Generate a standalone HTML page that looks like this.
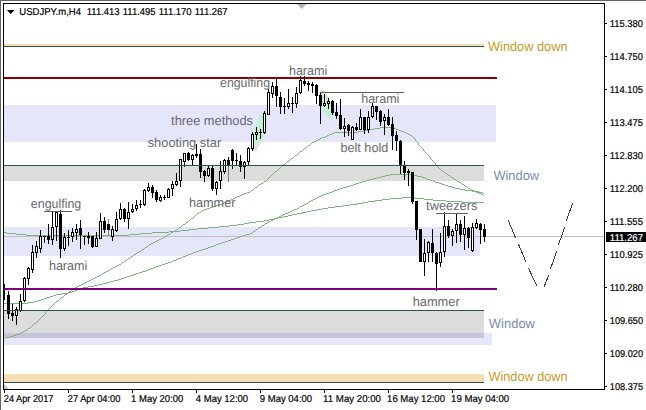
<!DOCTYPE html>
<html><head><meta charset="utf-8"><title>USDJPY H4</title>
<style>html,body{margin:0;padding:0;background:#fff}body{width:646px;height:410px;overflow:hidden;font-family:"Liberation Sans",sans-serif}svg{display:block}text{font-family:"Liberation Sans",sans-serif;text-rendering:geometricPrecision}</style>
</head><body>
<svg width="646" height="410" viewBox="0 0 646 410">
<rect x="0" y="0" width="646" height="410" fill="#ffffff"/>
<g shape-rendering="crispEdges">
<rect x="4" y="105" width="492" height="37" fill="#E6E6FA"/>
<rect x="4" y="227" width="476" height="29" fill="#E6E6FA"/>
<rect x="4" y="333" width="488" height="12" fill="#E6E6FA"/>
<rect x="4" y="166" width="480" height="15" fill="#DCDCDC"/>
<rect x="4" y="311" width="480" height="27" fill="#DCDCDC"/>
<rect x="4" y="333" width="480" height="5" fill="#C4C4D8"/>
<rect x="4" y="374" width="480" height="8" fill="#F5DEB3"/>
<rect x="4" y="44" width="480" height="2" fill="#F5DEB3"/>
</g>
<defs><clipPath id="cl"><rect x="4" y="105" width="492" height="37"/></clipPath></defs>
<ellipse cx="259.2" cy="131.5" rx="5.5" ry="20.5" fill="#D8E8D8" transform="rotate(16.6 259.2 131.5)" shape-rendering="crispEdges"/>
<g clip-path="url(#cl)"><ellipse cx="259.2" cy="131.5" rx="5.5" ry="20.5" fill="#C2F0D8" transform="rotate(16.6 259.2 131.5)" shape-rendering="crispEdges"/></g>
<ellipse cx="326.2" cy="104.5" rx="5" ry="15.5" fill="#D8E8D8" transform="rotate(-19 326.2 104.5)" shape-rendering="crispEdges"/>
<g clip-path="url(#cl)"><ellipse cx="326.2" cy="104.5" rx="5" ry="15.5" fill="#C2F0D8" transform="rotate(-19 326.2 104.5)" shape-rendering="crispEdges"/></g>
<g shape-rendering="crispEdges">
<rect x="4" y="236" width="601" height="1" fill="#C0C0C0"/>
</g>
<path d="M4,232h1v1h-1zM5,232h1v1h-1zM6,232h1v1h-1zM7,233h1v1h-1zM8,233h1v1h-1zM9,233h1v1h-1zM10,233h1v1h-1zM11,233h1v1h-1zM12,233h1v1h-1zM13,233h1v1h-1zM14,233h1v1h-1zM15,233h1v1h-1zM16,234h1v1h-1zM17,234h1v1h-1zM18,234h1v1h-1zM19,234h1v1h-1zM20,234h1v1h-1zM21,234h1v1h-1zM22,234h1v1h-1zM23,234h1v1h-1zM24,234h1v1h-1zM25,234h1v1h-1zM26,235h1v1h-1zM27,235h1v1h-1zM28,235h1v1h-1zM29,235h1v1h-1zM30,235h1v1h-1zM31,235h1v1h-1zM32,235h1v1h-1zM33,235h1v1h-1zM34,235h1v1h-1zM35,235h1v1h-1zM36,235h1v1h-1zM37,235h1v1h-1zM38,235h1v1h-1zM39,235h1v1h-1zM40,235h1v1h-1zM41,235h1v1h-1zM42,235h1v1h-1zM43,235h1v1h-1zM44,235h1v1h-1zM45,235h1v1h-1zM46,235h1v1h-1zM47,235h1v1h-1zM48,235h1v1h-1zM49,235h1v1h-1zM50,235h1v1h-1zM51,235h1v1h-1zM52,235h1v1h-1zM53,235h1v1h-1zM54,235h1v1h-1zM55,235h1v1h-1zM56,235h1v1h-1zM57,235h1v1h-1zM58,235h1v1h-1zM59,235h1v1h-1zM60,235h1v1h-1zM61,235h1v1h-1zM62,235h1v1h-1zM63,235h1v1h-1zM64,235h1v1h-1zM65,235h1v1h-1zM66,235h1v1h-1zM67,235h1v1h-1zM68,235h1v1h-1zM69,235h1v1h-1zM70,235h1v1h-1zM71,235h1v1h-1zM72,235h1v1h-1zM73,235h1v1h-1zM74,235h1v1h-1zM75,235h1v1h-1zM76,235h1v1h-1zM77,235h1v1h-1zM78,235h1v1h-1zM79,235h1v1h-1zM80,235h1v1h-1zM81,235h1v1h-1zM82,235h1v1h-1zM83,235h1v1h-1zM84,235h1v1h-1zM85,235h1v1h-1zM86,235h1v1h-1zM87,235h1v1h-1zM88,235h1v1h-1zM89,235h1v1h-1zM90,235h1v1h-1zM91,235h1v1h-1zM92,235h1v1h-1zM93,235h1v1h-1zM94,235h1v1h-1zM95,235h1v1h-1zM96,235h1v1h-1zM97,235h1v1h-1zM98,235h1v1h-1zM99,235h1v1h-1zM100,235h1v1h-1zM101,235h1v1h-1zM102,235h1v1h-1zM103,235h1v1h-1zM104,235h1v1h-1zM105,235h1v1h-1zM106,235h1v1h-1zM107,235h1v1h-1zM108,235h1v1h-1zM109,235h1v1h-1zM110,235h1v1h-1zM111,235h1v1h-1zM112,235h1v1h-1zM113,235h1v1h-1zM114,235h1v1h-1zM115,235h1v1h-1zM116,235h1v1h-1zM117,235h1v1h-1zM118,235h1v1h-1zM119,235h1v1h-1zM120,235h1v1h-1zM121,235h1v1h-1zM122,235h1v1h-1zM123,235h1v1h-1zM124,235h1v1h-1zM125,235h1v1h-1zM126,235h1v1h-1zM127,235h1v1h-1zM128,235h1v1h-1zM129,234h1v1h-1zM130,234h1v1h-1zM131,234h1v1h-1zM132,234h1v1h-1zM133,234h1v1h-1zM134,234h1v1h-1zM135,234h1v1h-1zM136,234h1v1h-1zM137,234h1v1h-1zM138,234h1v1h-1zM139,234h1v1h-1zM140,233h1v1h-1zM141,233h1v1h-1zM142,233h1v1h-1zM143,233h1v1h-1zM144,233h1v1h-1zM145,233h1v1h-1zM146,233h1v1h-1zM147,233h1v1h-1zM148,233h1v1h-1zM149,233h1v1h-1zM150,233h1v1h-1zM151,233h1v1h-1zM152,232h1v1h-1zM153,232h1v1h-1zM154,232h1v1h-1zM155,232h1v1h-1zM156,232h1v1h-1zM157,232h1v1h-1zM158,232h1v1h-1zM159,232h1v1h-1zM160,232h1v1h-1zM161,232h1v1h-1zM162,232h1v1h-1zM163,232h1v1h-1zM164,232h1v1h-1zM165,232h1v1h-1zM166,232h1v1h-1zM167,232h1v1h-1zM168,232h1v1h-1zM169,231h1v1h-1zM170,231h1v1h-1zM171,231h1v1h-1zM172,231h1v1h-1zM173,231h1v1h-1zM174,231h1v1h-1zM175,231h1v1h-1zM176,231h1v1h-1zM177,231h1v1h-1zM178,231h1v1h-1zM179,231h1v1h-1zM180,230h1v1h-1zM181,230h1v1h-1zM182,230h1v1h-1zM183,230h1v1h-1zM184,230h1v1h-1zM185,230h1v1h-1zM186,230h1v1h-1zM187,230h1v1h-1zM188,230h1v1h-1zM189,229h1v1h-1zM190,229h1v1h-1zM191,229h1v1h-1zM192,229h1v1h-1zM193,229h1v1h-1zM194,229h1v1h-1zM195,229h1v1h-1zM196,229h1v1h-1zM197,228h1v1h-1zM198,228h1v1h-1zM199,228h1v1h-1zM200,228h1v1h-1zM201,228h1v1h-1zM202,228h1v1h-1zM203,228h1v1h-1zM204,228h1v1h-1zM205,228h1v1h-1zM206,228h1v1h-1zM207,228h1v1h-1zM208,227h1v1h-1zM209,227h1v1h-1zM210,227h1v1h-1zM211,227h1v1h-1zM212,227h1v1h-1zM213,227h1v1h-1zM214,227h1v1h-1zM215,227h1v1h-1zM216,227h1v1h-1zM217,227h1v1h-1zM218,227h1v1h-1zM219,226h1v1h-1zM220,226h1v1h-1zM221,226h1v1h-1zM222,226h1v1h-1zM223,226h1v1h-1zM224,226h1v1h-1zM225,226h1v1h-1zM226,226h1v1h-1zM227,226h1v1h-1zM228,226h1v1h-1zM229,225h1v1h-1zM230,225h1v1h-1zM231,225h1v1h-1zM232,225h1v1h-1zM233,225h1v1h-1zM234,225h1v1h-1zM235,225h1v1h-1zM236,225h1v1h-1zM237,224h1v1h-1zM238,224h1v1h-1zM239,224h1v1h-1zM240,224h1v1h-1zM241,224h1v1h-1zM242,224h1v1h-1zM243,224h1v1h-1zM244,223h1v1h-1zM245,223h1v1h-1zM246,223h1v1h-1zM247,223h1v1h-1zM248,223h1v1h-1zM249,222h1v1h-1zM250,222h1v1h-1zM251,222h1v1h-1zM252,222h1v1h-1zM253,222h1v1h-1zM254,222h1v1h-1zM255,222h1v1h-1zM256,221h1v1h-1zM257,221h1v1h-1zM258,221h1v1h-1zM259,221h1v1h-1zM260,221h1v1h-1zM261,221h1v1h-1zM262,221h1v1h-1zM263,221h1v1h-1zM264,220h1v1h-1zM265,220h1v1h-1zM266,220h1v1h-1zM267,220h1v1h-1zM268,220h1v1h-1zM269,219h1v1h-1zM270,219h1v1h-1zM271,219h1v1h-1zM272,219h1v1h-1zM273,219h1v1h-1zM274,218h1v1h-1zM275,218h1v1h-1zM276,218h1v1h-1zM277,218h1v1h-1zM278,217h1v1h-1zM279,217h1v1h-1zM280,217h1v1h-1zM281,217h1v1h-1zM282,217h1v1h-1zM283,216h1v1h-1zM284,216h1v1h-1zM285,216h1v1h-1zM286,216h1v1h-1zM287,216h1v1h-1zM288,215h1v1h-1zM289,215h1v1h-1zM290,215h1v1h-1zM291,215h1v1h-1zM292,214h1v1h-1zM293,214h1v1h-1zM294,214h1v1h-1zM295,214h1v1h-1zM296,214h1v1h-1zM297,213h1v1h-1zM298,213h1v1h-1zM299,213h1v1h-1zM300,213h1v1h-1zM301,213h1v1h-1zM302,212h1v1h-1zM303,212h1v1h-1zM304,212h1v1h-1zM305,212h1v1h-1zM306,212h1v1h-1zM307,211h1v1h-1zM308,211h1v1h-1zM309,211h1v1h-1zM310,211h1v1h-1zM311,210h1v1h-1zM312,210h1v1h-1zM313,210h1v1h-1zM314,210h1v1h-1zM315,210h1v1h-1zM316,210h1v1h-1zM317,209h1v1h-1zM318,209h1v1h-1zM319,209h1v1h-1zM320,209h1v1h-1zM321,209h1v1h-1zM322,208h1v1h-1zM323,208h1v1h-1zM324,208h1v1h-1zM325,208h1v1h-1zM326,208h1v1h-1zM327,208h1v1h-1zM328,207h1v1h-1zM329,207h1v1h-1zM330,207h1v1h-1zM331,207h1v1h-1zM332,207h1v1h-1zM333,207h1v1h-1zM334,207h1v1h-1zM335,206h1v1h-1zM336,206h1v1h-1zM337,206h1v1h-1zM338,206h1v1h-1zM339,206h1v1h-1zM340,206h1v1h-1zM341,206h1v1h-1zM342,206h1v1h-1zM343,205h1v1h-1zM344,205h1v1h-1zM345,205h1v1h-1zM346,205h1v1h-1zM347,205h1v1h-1zM348,205h1v1h-1zM349,205h1v1h-1zM350,204h1v1h-1zM351,204h1v1h-1zM352,204h1v1h-1zM353,204h1v1h-1zM354,204h1v1h-1zM355,204h1v1h-1zM356,204h1v1h-1zM357,203h1v1h-1zM358,203h1v1h-1zM359,203h1v1h-1zM360,203h1v1h-1zM361,203h1v1h-1zM362,203h1v1h-1zM363,202h1v1h-1zM364,202h1v1h-1zM365,202h1v1h-1zM366,202h1v1h-1zM367,202h1v1h-1zM368,201h1v1h-1zM369,201h1v1h-1zM370,201h1v1h-1zM371,201h1v1h-1zM372,201h1v1h-1zM373,201h1v1h-1zM374,201h1v1h-1zM375,200h1v1h-1zM376,200h1v1h-1zM377,200h1v1h-1zM378,200h1v1h-1zM379,200h1v1h-1zM380,200h1v1h-1zM381,200h1v1h-1zM382,199h1v1h-1zM383,199h1v1h-1zM384,199h1v1h-1zM385,199h1v1h-1zM386,199h1v1h-1zM387,199h1v1h-1zM388,199h1v1h-1zM389,199h1v1h-1zM390,198h1v1h-1zM391,198h1v1h-1zM392,198h1v1h-1zM393,198h1v1h-1zM394,198h1v1h-1zM395,198h1v1h-1zM396,198h1v1h-1zM397,198h1v1h-1zM398,198h1v1h-1zM399,198h1v1h-1zM400,198h1v1h-1zM401,198h1v1h-1zM402,197h1v1h-1zM403,197h1v1h-1zM404,197h1v1h-1zM405,197h1v1h-1zM406,197h1v1h-1zM407,197h1v1h-1zM408,197h1v1h-1zM409,197h1v1h-1zM410,197h1v1h-1zM411,197h1v1h-1zM412,197h1v1h-1zM413,197h1v1h-1zM414,197h1v1h-1zM415,198h1v1h-1zM416,198h1v1h-1zM417,198h1v1h-1zM418,198h1v1h-1zM419,198h1v1h-1zM420,198h1v1h-1zM421,198h1v1h-1zM422,198h1v1h-1zM423,198h1v1h-1zM424,199h1v1h-1zM425,199h1v1h-1zM426,199h1v1h-1zM427,199h1v1h-1zM428,199h1v1h-1zM429,199h1v1h-1zM430,199h1v1h-1zM431,199h1v1h-1zM432,199h1v1h-1zM433,200h1v1h-1zM434,200h1v1h-1zM435,200h1v1h-1zM436,200h1v1h-1zM437,200h1v1h-1zM438,200h1v1h-1zM439,200h1v1h-1zM440,200h1v1h-1zM441,200h1v1h-1zM442,200h1v1h-1zM443,200h1v1h-1zM444,200h1v1h-1zM445,200h1v1h-1zM446,201h1v1h-1zM447,201h1v1h-1zM448,201h1v1h-1zM449,201h1v1h-1zM450,201h1v1h-1zM451,201h1v1h-1zM452,201h1v1h-1zM453,201h1v1h-1zM454,201h1v1h-1zM455,201h1v1h-1zM456,201h1v1h-1zM457,201h1v1h-1zM458,201h1v1h-1zM459,201h1v1h-1zM460,201h1v1h-1zM461,201h1v1h-1zM462,202h1v1h-1zM463,202h1v1h-1zM464,202h1v1h-1zM465,202h1v1h-1zM466,202h1v1h-1zM467,202h1v1h-1zM468,202h1v1h-1zM469,202h1v1h-1zM470,202h1v1h-1zM471,202h1v1h-1zM472,202h1v1h-1zM473,202h1v1h-1zM474,202h1v1h-1zM475,202h1v1h-1zM476,202h1v1h-1zM477,202h1v1h-1zM478,202h1v1h-1zM479,202h1v1h-1zM480,202h1v1h-1zM481,202h1v1h-1zM482,202h1v1h-1zM483,202h1v1h-1z" fill="#7DB47D" shape-rendering="crispEdges"/>
<path d="M4,303h1v1h-1zM5,303h1v1h-1zM6,303h1v1h-1zM7,303h1v1h-1zM8,303h1v1h-1zM9,303h1v1h-1zM10,303h1v1h-1zM11,303h1v1h-1zM12,303h1v1h-1zM13,303h1v1h-1zM14,303h1v1h-1zM15,303h1v1h-1zM16,303h1v1h-1zM17,303h1v1h-1zM18,303h1v1h-1zM19,303h1v1h-1zM20,303h1v1h-1zM21,303h1v1h-1zM22,303h1v1h-1zM23,303h1v1h-1zM24,303h1v1h-1zM25,303h1v1h-1zM26,303h1v1h-1zM27,303h1v1h-1zM28,302h1v1h-1zM29,302h1v1h-1zM30,302h1v1h-1zM31,302h1v1h-1zM32,302h1v1h-1zM33,302h1v1h-1zM34,301h1v1h-1zM35,301h1v1h-1zM36,301h1v1h-1zM37,301h1v1h-1zM38,300h1v1h-1zM39,300h1v1h-1zM40,300h1v1h-1zM41,299h1v1h-1zM42,299h1v1h-1zM43,299h1v1h-1zM44,298h1v1h-1zM45,298h1v1h-1zM46,298h1v1h-1zM47,297h1v1h-1zM48,297h1v1h-1zM49,297h1v1h-1zM50,296h1v1h-1zM51,296h1v1h-1zM52,296h1v1h-1zM53,295h1v1h-1zM54,295h1v1h-1zM55,295h1v1h-1zM56,294h1v1h-1zM57,294h1v1h-1zM58,294h1v1h-1zM59,294h1v1h-1zM60,294h1v1h-1zM61,294h1v1h-1zM62,293h1v1h-1zM63,293h1v1h-1zM64,293h1v1h-1zM65,293h1v1h-1zM66,293h1v1h-1zM67,293h1v1h-1zM68,292h1v1h-1zM69,292h1v1h-1zM70,292h1v1h-1zM71,292h1v1h-1zM72,291h1v1h-1zM73,291h1v1h-1zM74,291h1v1h-1zM75,290h1v1h-1zM76,290h1v1h-1zM77,289h1v1h-1zM78,289h1v1h-1zM79,289h1v1h-1zM80,288h1v1h-1zM81,288h1v1h-1zM82,288h1v1h-1zM83,287h1v1h-1zM84,287h1v1h-1zM85,287h1v1h-1zM86,287h1v1h-1zM87,287h1v1h-1zM88,286h1v1h-1zM89,286h1v1h-1zM90,286h1v1h-1zM91,286h1v1h-1zM92,286h1v1h-1zM93,286h1v1h-1zM94,285h1v1h-1zM95,285h1v1h-1zM96,285h1v1h-1zM97,285h1v1h-1zM98,284h1v1h-1zM99,284h1v1h-1zM100,284h1v1h-1zM101,284h1v1h-1zM102,284h1v1h-1zM103,283h1v1h-1zM104,283h1v1h-1zM105,283h1v1h-1zM106,283h1v1h-1zM107,282h1v1h-1zM108,282h1v1h-1zM109,282h1v1h-1zM110,281h1v1h-1zM111,281h1v1h-1zM112,281h1v1h-1zM113,281h1v1h-1zM114,280h1v1h-1zM115,280h1v1h-1zM116,280h1v1h-1zM117,280h1v1h-1zM118,279h1v1h-1zM119,279h1v1h-1zM120,279h1v1h-1zM121,278h1v1h-1zM122,278h1v1h-1zM123,278h1v1h-1zM124,277h1v1h-1zM125,277h1v1h-1zM126,277h1v1h-1zM127,276h1v1h-1zM128,276h1v1h-1zM129,276h1v1h-1zM130,275h1v1h-1zM131,275h1v1h-1zM132,275h1v1h-1zM133,274h1v1h-1zM134,274h1v1h-1zM135,274h1v1h-1zM136,273h1v1h-1zM137,273h1v1h-1zM138,273h1v1h-1zM139,272h1v1h-1zM140,272h1v1h-1zM141,272h1v1h-1zM142,271h1v1h-1zM143,271h1v1h-1zM144,271h1v1h-1zM145,271h1v1h-1zM146,270h1v1h-1zM147,270h1v1h-1zM148,269h1v1h-1zM149,269h1v1h-1zM150,269h1v1h-1zM151,268h1v1h-1zM152,268h1v1h-1zM153,268h1v1h-1zM154,267h1v1h-1zM155,267h1v1h-1zM156,266h1v1h-1zM157,266h1v1h-1zM158,266h1v1h-1zM159,265h1v1h-1zM160,265h1v1h-1zM161,265h1v1h-1zM162,264h1v1h-1zM163,264h1v1h-1zM164,264h1v1h-1zM165,263h1v1h-1zM166,263h1v1h-1zM167,263h1v1h-1zM168,262h1v1h-1zM169,262h1v1h-1zM170,262h1v1h-1zM171,261h1v1h-1zM172,261h1v1h-1zM173,260h1v1h-1zM174,260h1v1h-1zM175,260h1v1h-1zM176,259h1v1h-1zM177,259h1v1h-1zM178,258h1v1h-1zM179,258h1v1h-1zM180,258h1v1h-1zM181,257h1v1h-1zM182,257h1v1h-1zM183,256h1v1h-1zM184,256h1v1h-1zM185,256h1v1h-1zM186,255h1v1h-1zM187,255h1v1h-1zM188,254h1v1h-1zM189,254h1v1h-1zM190,254h1v1h-1zM191,253h1v1h-1zM192,253h1v1h-1zM193,252h1v1h-1zM194,252h1v1h-1zM195,252h1v1h-1zM196,251h1v1h-1zM197,251h1v1h-1zM198,251h1v1h-1zM199,250h1v1h-1zM200,250h1v1h-1zM201,250h1v1h-1zM202,249h1v1h-1zM203,249h1v1h-1zM204,249h1v1h-1zM205,248h1v1h-1zM206,248h1v1h-1zM207,248h1v1h-1zM208,247h1v1h-1zM209,247h1v1h-1zM210,247h1v1h-1zM211,246h1v1h-1zM212,246h1v1h-1zM213,246h1v1h-1zM214,245h1v1h-1zM215,245h1v1h-1zM216,244h1v1h-1zM217,244h1v1h-1zM218,244h1v1h-1zM219,243h1v1h-1zM220,243h1v1h-1zM221,243h1v1h-1zM222,242h1v1h-1zM223,242h1v1h-1zM224,242h1v1h-1zM225,241h1v1h-1zM226,241h1v1h-1zM227,241h1v1h-1zM228,240h1v1h-1zM229,240h1v1h-1zM230,240h1v1h-1zM231,239h1v1h-1zM232,239h1v1h-1zM233,239h1v1h-1zM234,238h1v1h-1zM235,238h1v1h-1zM236,238h1v1h-1zM237,237h1v1h-1zM238,237h1v1h-1zM239,237h1v1h-1zM240,236h1v1h-1zM241,236h1v1h-1zM242,236h1v1h-1zM243,235h1v1h-1zM244,235h1v1h-1zM245,235h1v1h-1zM246,234h1v1h-1zM247,234h1v1h-1zM248,234h1v1h-1zM249,234h1v1h-1zM250,233h1v1h-1zM251,233h1v1h-1zM252,232h1v1h-1zM253,231h1v1h-1zM254,231h1v1h-1zM255,230h1v1h-1zM256,229h1v1h-1zM257,229h1v1h-1zM258,228h1v1h-1zM259,227h1v1h-1zM260,227h1v1h-1zM261,226h1v1h-1zM262,225h1v1h-1zM263,225h1v1h-1zM264,224h1v1h-1zM265,223h1v1h-1zM266,223h1v1h-1zM267,222h1v1h-1zM268,222h1v1h-1zM269,221h1v1h-1zM270,221h1v1h-1zM271,220h1v1h-1zM272,220h1v1h-1zM273,219h1v1h-1zM274,219h1v1h-1zM275,218h1v1h-1zM276,218h1v1h-1zM277,217h1v1h-1zM278,217h1v1h-1zM279,216h1v1h-1zM280,216h1v1h-1zM281,215h1v1h-1zM282,215h1v1h-1zM283,214h1v1h-1zM284,214h1v1h-1zM285,213h1v1h-1zM286,213h1v1h-1zM287,213h1v1h-1zM288,212h1v1h-1zM289,212h1v1h-1zM290,211h1v1h-1zM291,211h1v1h-1zM292,210h1v1h-1zM293,210h1v1h-1zM294,209h1v1h-1zM295,209h1v1h-1zM296,209h1v1h-1zM297,208h1v1h-1zM298,208h1v1h-1zM299,207h1v1h-1zM300,206h1v1h-1zM301,206h1v1h-1zM302,205h1v1h-1zM303,205h1v1h-1zM304,204h1v1h-1zM305,204h1v1h-1zM306,203h1v1h-1zM307,203h1v1h-1zM308,202h1v1h-1zM309,201h1v1h-1zM310,201h1v1h-1zM311,200h1v1h-1zM312,200h1v1h-1zM313,199h1v1h-1zM314,199h1v1h-1zM315,198h1v1h-1zM316,198h1v1h-1zM317,197h1v1h-1zM318,197h1v1h-1zM319,196h1v1h-1zM320,196h1v1h-1zM321,195h1v1h-1zM322,195h1v1h-1zM323,194h1v1h-1zM324,194h1v1h-1zM325,194h1v1h-1zM326,193h1v1h-1zM327,193h1v1h-1zM328,193h1v1h-1zM329,192h1v1h-1zM330,192h1v1h-1zM331,192h1v1h-1zM332,191h1v1h-1zM333,191h1v1h-1zM334,190h1v1h-1zM335,190h1v1h-1zM336,190h1v1h-1zM337,189h1v1h-1zM338,189h1v1h-1zM339,189h1v1h-1zM340,188h1v1h-1zM341,188h1v1h-1zM342,188h1v1h-1zM343,187h1v1h-1zM344,187h1v1h-1zM345,187h1v1h-1zM346,187h1v1h-1zM347,186h1v1h-1zM348,186h1v1h-1zM349,186h1v1h-1zM350,185h1v1h-1zM351,185h1v1h-1zM352,185h1v1h-1zM353,184h1v1h-1zM354,184h1v1h-1zM355,184h1v1h-1zM356,183h1v1h-1zM357,183h1v1h-1zM358,183h1v1h-1zM359,182h1v1h-1zM360,182h1v1h-1zM361,182h1v1h-1zM362,181h1v1h-1zM363,181h1v1h-1zM364,181h1v1h-1zM365,181h1v1h-1zM366,180h1v1h-1zM367,180h1v1h-1zM368,180h1v1h-1zM369,179h1v1h-1zM370,179h1v1h-1zM371,179h1v1h-1zM372,179h1v1h-1zM373,178h1v1h-1zM374,178h1v1h-1zM375,178h1v1h-1zM376,178h1v1h-1zM377,177h1v1h-1zM378,177h1v1h-1zM379,177h1v1h-1zM380,177h1v1h-1zM381,176h1v1h-1zM382,176h1v1h-1zM383,176h1v1h-1zM384,176h1v1h-1zM385,175h1v1h-1zM386,175h1v1h-1zM387,175h1v1h-1zM388,175h1v1h-1zM389,175h1v1h-1zM390,174h1v1h-1zM391,174h1v1h-1zM392,174h1v1h-1zM393,174h1v1h-1zM394,174h1v1h-1zM395,174h1v1h-1zM396,174h1v1h-1zM397,174h1v1h-1zM398,174h1v1h-1zM399,174h1v1h-1zM400,174h1v1h-1zM401,174h1v1h-1zM402,174h1v1h-1zM403,174h1v1h-1zM404,174h1v1h-1zM405,174h1v1h-1zM406,174h1v1h-1zM407,174h1v1h-1zM408,174h1v1h-1zM409,174h1v1h-1zM410,174h1v1h-1zM411,175h1v1h-1zM412,175h1v1h-1zM413,175h1v1h-1zM414,175h1v1h-1zM415,175h1v1h-1zM416,175h1v1h-1zM417,176h1v1h-1zM418,176h1v1h-1zM419,176h1v1h-1zM420,176h1v1h-1zM421,176h1v1h-1zM422,177h1v1h-1zM423,177h1v1h-1zM424,177h1v1h-1zM425,178h1v1h-1zM426,178h1v1h-1zM427,179h1v1h-1zM428,179h1v1h-1zM429,179h1v1h-1zM430,180h1v1h-1zM431,180h1v1h-1zM432,180h1v1h-1zM433,181h1v1h-1zM434,181h1v1h-1zM435,182h1v1h-1zM436,182h1v1h-1zM437,182h1v1h-1zM438,182h1v1h-1zM439,183h1v1h-1zM440,183h1v1h-1zM441,183h1v1h-1zM442,184h1v1h-1zM443,184h1v1h-1zM444,184h1v1h-1zM445,185h1v1h-1zM446,185h1v1h-1zM447,185h1v1h-1zM448,186h1v1h-1zM449,186h1v1h-1zM450,186h1v1h-1zM451,186h1v1h-1zM452,187h1v1h-1zM453,187h1v1h-1zM454,187h1v1h-1zM455,188h1v1h-1zM456,188h1v1h-1zM457,188h1v1h-1zM458,188h1v1h-1zM459,188h1v1h-1zM460,189h1v1h-1zM461,189h1v1h-1zM462,189h1v1h-1zM463,189h1v1h-1zM464,189h1v1h-1zM465,190h1v1h-1zM466,190h1v1h-1zM467,190h1v1h-1zM468,190h1v1h-1zM469,190h1v1h-1zM470,190h1v1h-1zM471,190h1v1h-1zM472,191h1v1h-1zM473,191h1v1h-1zM474,191h1v1h-1zM475,191h1v1h-1zM476,191h1v1h-1zM477,191h1v1h-1zM478,191h1v1h-1zM479,192h1v1h-1zM480,192h1v1h-1zM481,192h1v1h-1zM482,192h1v1h-1zM483,193h1v1h-1z" fill="#7DB47D" shape-rendering="crispEdges"/>
<path d="M5,338h1v1h-1zM6,337h1v1h-1zM7,337h1v1h-1zM8,337h1v1h-1zM9,337h1v1h-1zM10,336h1v1h-1zM11,336h1v1h-1zM12,336h1v1h-1zM13,335h1v1h-1zM14,335h1v1h-1zM15,335h1v1h-1zM16,334h1v1h-1zM17,334h1v1h-1zM18,334h1v1h-1zM19,333h1v1h-1zM20,333h1v1h-1zM21,332h1v1h-1zM22,332h1v1h-1zM23,331h1v1h-1zM24,331h1v1h-1zM25,330h1v1h-1zM26,330h1v1h-1zM27,329h1v1h-1zM28,328h1v1h-1zM29,328h1v1h-1zM30,327h1v1h-1zM31,326h1v1h-1zM32,325h1v1h-1zM33,324h1v1h-1zM34,323h1v1h-1zM35,323h1v1h-1zM36,322h1v1h-1zM37,321h1v1h-1zM38,320h1v1h-1zM39,319h1v1h-1zM40,318h1v1h-1zM41,317h1v1h-1zM42,316h1v1h-1zM43,315h1v1h-1zM44,314h1v1h-1zM45,312h1v2h-1zM46,311h1v1h-1zM47,310h1v1h-1zM48,309h1v1h-1zM49,308h1v1h-1zM50,307h1v1h-1zM51,306h1v1h-1zM52,305h1v1h-1zM53,304h1v1h-1zM54,303h1v1h-1zM55,302h1v1h-1zM56,301h1v1h-1zM57,301h1v1h-1zM58,300h1v1h-1zM59,299h1v1h-1zM60,298h1v1h-1zM61,297h1v1h-1zM62,297h1v1h-1zM63,296h1v1h-1zM64,295h1v1h-1zM65,294h1v1h-1zM66,294h1v1h-1zM67,293h1v1h-1zM68,292h1v1h-1zM69,291h1v1h-1zM70,291h1v1h-1zM71,290h1v1h-1zM72,289h1v1h-1zM73,289h1v1h-1zM74,288h1v1h-1zM75,287h1v1h-1zM76,287h1v1h-1zM77,286h1v1h-1zM78,286h1v1h-1zM79,285h1v1h-1zM80,285h1v1h-1zM81,284h1v1h-1zM82,284h1v1h-1zM83,283h1v1h-1zM84,283h1v1h-1zM85,282h1v1h-1zM86,282h1v1h-1zM87,281h1v1h-1zM88,281h1v1h-1zM89,280h1v1h-1zM90,280h1v1h-1zM91,279h1v1h-1zM92,279h1v1h-1zM93,278h1v1h-1zM94,278h1v1h-1zM95,277h1v1h-1zM96,277h1v1h-1zM97,276h1v1h-1zM98,276h1v1h-1zM99,275h1v1h-1zM100,275h1v1h-1zM101,274h1v1h-1zM102,273h1v1h-1zM103,273h1v1h-1zM104,272h1v1h-1zM105,272h1v1h-1zM106,271h1v1h-1zM107,271h1v1h-1zM108,270h1v1h-1zM109,270h1v1h-1zM110,269h1v1h-1zM111,268h1v1h-1zM112,268h1v1h-1zM113,267h1v1h-1zM114,267h1v1h-1zM115,266h1v1h-1zM116,266h1v1h-1zM117,265h1v1h-1zM118,265h1v1h-1zM119,264h1v1h-1zM120,264h1v1h-1zM121,263h1v1h-1zM122,262h1v1h-1zM123,262h1v1h-1zM124,261h1v1h-1zM125,260h1v1h-1zM126,260h1v1h-1zM127,259h1v1h-1zM128,258h1v1h-1zM129,258h1v1h-1zM130,257h1v1h-1zM131,256h1v1h-1zM132,256h1v1h-1zM133,255h1v1h-1zM134,254h1v1h-1zM135,254h1v1h-1zM136,253h1v1h-1zM137,252h1v1h-1zM138,252h1v1h-1zM139,251h1v1h-1zM140,251h1v1h-1zM141,250h1v1h-1zM142,249h1v1h-1zM143,249h1v1h-1zM144,248h1v1h-1zM145,247h1v1h-1zM146,247h1v1h-1zM147,246h1v1h-1zM148,245h1v1h-1zM149,244h1v1h-1zM150,244h1v1h-1zM151,243h1v1h-1zM152,243h1v1h-1zM153,242h1v1h-1zM154,242h1v1h-1zM155,241h1v1h-1zM156,241h1v1h-1zM157,240h1v1h-1zM158,240h1v1h-1zM159,239h1v1h-1zM160,239h1v1h-1zM161,238h1v1h-1zM162,238h1v1h-1zM163,237h1v1h-1zM164,237h1v1h-1zM165,236h1v1h-1zM166,235h1v1h-1zM167,235h1v1h-1zM168,234h1v1h-1zM169,234h1v1h-1zM170,233h1v1h-1zM171,232h1v1h-1zM172,232h1v1h-1zM173,231h1v1h-1zM174,231h1v1h-1zM175,230h1v1h-1zM176,229h1v1h-1zM177,229h1v1h-1zM178,228h1v1h-1zM179,227h1v1h-1zM180,227h1v1h-1zM181,226h1v1h-1zM182,225h1v1h-1zM183,224h1v1h-1zM184,224h1v1h-1zM185,223h1v1h-1zM186,222h1v1h-1zM187,222h1v1h-1zM188,221h1v1h-1zM189,220h1v1h-1zM190,219h1v1h-1zM191,218h1v1h-1zM192,218h1v1h-1zM193,217h1v1h-1zM194,216h1v1h-1zM195,215h1v1h-1zM196,214h1v1h-1zM197,213h1v1h-1zM198,213h1v1h-1zM199,212h1v1h-1zM200,212h1v1h-1zM201,211h1v1h-1zM202,210h1v1h-1zM203,210h1v1h-1zM204,209h1v1h-1zM205,209h1v1h-1zM206,209h1v1h-1zM207,208h1v1h-1zM208,208h1v1h-1zM209,208h1v1h-1zM210,207h1v1h-1zM211,207h1v1h-1zM212,207h1v1h-1zM213,206h1v1h-1zM214,206h1v1h-1zM215,206h1v1h-1zM216,205h1v1h-1zM217,205h1v1h-1zM218,205h1v1h-1zM219,204h1v1h-1zM220,204h1v1h-1zM221,204h1v1h-1zM222,203h1v1h-1zM223,203h1v1h-1zM224,202h1v1h-1zM225,202h1v1h-1zM226,202h1v1h-1zM227,201h1v1h-1zM228,201h1v1h-1zM229,200h1v1h-1zM230,200h1v1h-1zM231,199h1v1h-1zM232,199h1v1h-1zM233,198h1v1h-1zM234,198h1v1h-1zM235,197h1v1h-1zM236,197h1v1h-1zM237,196h1v1h-1zM238,196h1v1h-1zM239,196h1v1h-1zM240,195h1v1h-1zM241,195h1v1h-1zM242,194h1v1h-1zM243,194h1v1h-1zM244,193h1v1h-1zM245,193h1v1h-1zM246,193h1v1h-1zM247,192h1v1h-1zM248,192h1v1h-1zM249,192h1v1h-1zM250,191h1v1h-1zM251,190h1v1h-1zM252,190h1v1h-1zM253,189h1v1h-1zM254,188h1v1h-1zM255,187h1v1h-1zM256,187h1v1h-1zM257,186h1v1h-1zM258,185h1v1h-1zM259,184h1v1h-1zM260,184h1v1h-1zM261,183h1v1h-1zM262,183h1v1h-1zM263,182h1v1h-1zM264,181h1v1h-1zM265,181h1v1h-1zM266,180h1v1h-1zM267,179h1v1h-1zM268,178h1v1h-1zM269,177h1v1h-1zM270,176h1v1h-1zM271,175h1v1h-1zM272,174h1v1h-1zM273,173h1v1h-1zM274,172h1v1h-1zM275,171h1v1h-1zM276,171h1v1h-1zM277,170h1v1h-1zM278,169h1v1h-1zM279,168h1v1h-1zM280,167h1v1h-1zM281,166h1v1h-1zM282,165h1v1h-1zM283,164h1v1h-1zM284,164h1v1h-1zM285,163h1v1h-1zM286,162h1v1h-1zM287,161h1v1h-1zM288,161h1v1h-1zM289,160h1v1h-1zM290,159h1v1h-1zM291,158h1v1h-1zM292,158h1v1h-1zM293,157h1v1h-1zM294,156h1v1h-1zM295,155h1v1h-1zM296,155h1v1h-1zM297,154h1v1h-1zM298,153h1v1h-1zM299,152h1v1h-1zM300,151h1v1h-1zM301,151h1v1h-1zM302,150h1v1h-1zM303,149h1v1h-1zM304,148h1v1h-1zM305,148h1v1h-1zM306,147h1v1h-1zM307,146h1v1h-1zM308,145h1v1h-1zM309,145h1v1h-1zM310,144h1v1h-1zM311,143h1v1h-1zM312,142h1v1h-1zM313,142h1v1h-1zM314,141h1v1h-1zM315,141h1v1h-1zM316,140h1v1h-1zM317,140h1v1h-1zM318,139h1v1h-1zM319,139h1v1h-1zM320,138h1v1h-1zM321,138h1v1h-1zM322,137h1v1h-1zM323,137h1v1h-1zM324,137h1v1h-1zM325,136h1v1h-1zM326,136h1v1h-1zM327,135h1v1h-1zM328,135h1v1h-1zM329,134h1v1h-1zM330,134h1v1h-1zM331,134h1v1h-1zM332,133h1v1h-1zM333,133h1v1h-1zM334,132h1v1h-1zM335,132h1v1h-1zM336,132h1v1h-1zM337,132h1v1h-1zM338,132h1v1h-1zM339,132h1v1h-1zM340,132h1v1h-1zM341,132h1v1h-1zM342,132h1v1h-1zM343,132h1v1h-1zM344,132h1v1h-1zM345,132h1v1h-1zM346,132h1v1h-1zM347,132h1v1h-1zM348,132h1v1h-1zM349,132h1v1h-1zM350,132h1v1h-1zM351,132h1v1h-1zM352,132h1v1h-1zM353,132h1v1h-1zM354,132h1v1h-1zM355,132h1v1h-1zM356,132h1v1h-1zM357,132h1v1h-1zM358,131h1v1h-1zM359,131h1v1h-1zM360,131h1v1h-1zM361,131h1v1h-1zM362,131h1v1h-1zM363,130h1v1h-1zM364,130h1v1h-1zM365,130h1v1h-1zM366,130h1v1h-1zM367,130h1v1h-1zM368,129h1v1h-1zM369,129h1v1h-1zM370,129h1v1h-1zM371,129h1v1h-1zM372,129h1v1h-1zM373,129h1v1h-1zM374,128h1v1h-1zM375,128h1v1h-1zM376,128h1v1h-1zM377,128h1v1h-1zM378,128h1v1h-1zM379,128h1v1h-1zM380,127h1v1h-1zM381,127h1v1h-1zM382,127h1v1h-1zM383,127h1v1h-1zM384,127h1v1h-1zM385,127h1v1h-1zM386,127h1v1h-1zM387,127h1v1h-1zM388,127h1v1h-1zM389,127h1v1h-1zM390,127h1v1h-1zM391,127h1v1h-1zM392,128h1v1h-1zM393,128h1v1h-1zM394,128h1v1h-1zM395,128h1v1h-1zM396,129h1v1h-1zM397,129h1v1h-1zM398,129h1v1h-1zM399,130h1v1h-1zM400,130h1v1h-1zM401,131h1v1h-1zM402,131h1v1h-1zM403,131h1v1h-1zM404,132h1v1h-1zM405,132h1v1h-1zM406,133h1v1h-1zM407,133h1v1h-1zM408,134h1v1h-1zM409,134h1v1h-1zM410,135h1v1h-1zM411,135h1v1h-1zM412,136h1v1h-1zM413,137h1v1h-1zM414,138h1v1h-1zM415,139h1v2h-1zM416,141h1v1h-1zM417,142h1v1h-1zM418,143h1v2h-1zM419,145h1v1h-1zM420,146h1v1h-1zM421,147h1v1h-1zM422,148h1v1h-1zM423,149h1v2h-1zM424,151h1v1h-1zM425,152h1v1h-1zM426,153h1v1h-1zM427,154h1v1h-1zM428,155h1v1h-1zM429,156h1v1h-1zM430,157h1v2h-1zM431,159h1v1h-1zM432,160h1v1h-1zM433,161h1v1h-1zM434,162h1v1h-1zM435,163h1v2h-1zM436,165h1v1h-1zM437,166h1v1h-1zM438,167h1v1h-1zM439,168h1v1h-1zM440,169h1v1h-1zM441,170h1v1h-1zM442,171h1v1h-1zM443,171h1v1h-1zM444,172h1v1h-1zM445,173h1v1h-1zM446,173h1v1h-1zM447,174h1v1h-1zM448,175h1v1h-1zM449,175h1v1h-1zM450,176h1v1h-1zM451,177h1v1h-1zM452,177h1v1h-1zM453,178h1v1h-1zM454,179h1v1h-1zM455,179h1v1h-1zM456,180h1v1h-1zM457,181h1v1h-1zM458,181h1v1h-1zM459,182h1v1h-1zM460,182h1v1h-1zM461,183h1v1h-1zM462,184h1v1h-1zM463,184h1v1h-1zM464,185h1v1h-1zM465,186h1v1h-1zM466,186h1v1h-1zM467,187h1v1h-1zM468,188h1v1h-1zM469,188h1v1h-1zM470,189h1v1h-1zM471,190h1v1h-1zM472,190h1v1h-1zM473,190h1v1h-1zM474,191h1v1h-1zM475,191h1v1h-1zM476,192h1v1h-1zM477,192h1v1h-1zM478,192h1v1h-1zM479,193h1v1h-1zM480,193h1v1h-1zM481,194h1v1h-1zM482,194h1v1h-1zM483,195h1v1h-1z" fill="#7DB47D" shape-rendering="crispEdges"/>
<g shape-rendering="crispEdges" fill="#000">
<rect x="4" y="284" width="1" height="16"/>
<rect x="8" y="291" width="1" height="28"/>
<rect x="7" y="295" width="3" height="19"/>
<rect x="12" y="304" width="1" height="17"/>
<rect x="11" y="313" width="3" height="3"/>
<rect x="16" y="307" width="1" height="18"/>
<rect x="15" y="309" width="3" height="7"/>
<rect x="16" y="310" width="1" height="5" fill="#fff"/>
<rect x="20" y="294" width="1" height="18"/>
<rect x="19" y="301" width="3" height="10"/>
<rect x="20" y="302" width="1" height="8" fill="#fff"/>
<rect x="24" y="277" width="1" height="25"/>
<rect x="23" y="278" width="3" height="23"/>
<rect x="24" y="279" width="1" height="21" fill="#fff"/>
<rect x="28" y="267" width="1" height="18"/>
<rect x="27" y="268" width="3" height="11"/>
<rect x="28" y="269" width="1" height="9" fill="#fff"/>
<rect x="32" y="245" width="1" height="28"/>
<rect x="31" y="252" width="3" height="18"/>
<rect x="32" y="253" width="1" height="16" fill="#fff"/>
<rect x="36" y="241" width="1" height="17"/>
<rect x="35" y="246" width="3" height="7"/>
<rect x="36" y="247" width="1" height="5" fill="#fff"/>
<rect x="40" y="230" width="1" height="23"/>
<rect x="39" y="236" width="3" height="13"/>
<rect x="40" y="237" width="1" height="11" fill="#fff"/>
<rect x="44" y="236" width="1" height="7"/>
<rect x="43" y="236" width="3" height="1"/>
<rect x="48" y="224" width="1" height="20"/>
<rect x="47" y="236" width="3" height="4"/>
<rect x="52" y="212" width="1" height="33"/>
<rect x="51" y="227" width="3" height="13"/>
<rect x="52" y="228" width="1" height="11" fill="#fff"/>
<rect x="56" y="212" width="1" height="29"/>
<rect x="55" y="212" width="3" height="15"/>
<rect x="56" y="213" width="1" height="13" fill="#fff"/>
<rect x="60" y="210" width="1" height="48"/>
<rect x="59" y="214" width="3" height="35"/>
<rect x="64" y="233" width="1" height="18"/>
<rect x="63" y="237" width="3" height="12"/>
<rect x="64" y="238" width="1" height="10" fill="#fff"/>
<rect x="68" y="230" width="1" height="16"/>
<rect x="67" y="237" width="3" height="1"/>
<rect x="72" y="228" width="1" height="14"/>
<rect x="71" y="232" width="3" height="5"/>
<rect x="72" y="233" width="1" height="3" fill="#fff"/>
<rect x="76" y="224" width="1" height="16"/>
<rect x="75" y="229" width="3" height="4"/>
<rect x="76" y="230" width="1" height="2" fill="#fff"/>
<rect x="80" y="220" width="1" height="29"/>
<rect x="79" y="228" width="3" height="7"/>
<rect x="84" y="236" width="1" height="9"/>
<rect x="83" y="236" width="3" height="1"/>
<rect x="88" y="232" width="1" height="12"/>
<rect x="87" y="236" width="3" height="2"/>
<rect x="92" y="236" width="1" height="12"/>
<rect x="91" y="236" width="3" height="11"/>
<rect x="96" y="232" width="1" height="15"/>
<rect x="95" y="238" width="3" height="9"/>
<rect x="96" y="239" width="1" height="7" fill="#fff"/>
<rect x="100" y="213" width="1" height="26"/>
<rect x="99" y="221" width="3" height="18"/>
<rect x="100" y="222" width="1" height="16" fill="#fff"/>
<rect x="104" y="217" width="1" height="16"/>
<rect x="103" y="221" width="3" height="9"/>
<rect x="108" y="219" width="1" height="16"/>
<rect x="108" y="230" width="1" height="5" fill="#808080"/>
<rect x="108" y="219" width="1" height="5" fill="#808080"/>
<rect x="107" y="224" width="3" height="6"/>
<rect x="112" y="226" width="1" height="15"/>
<rect x="111" y="229" width="3" height="8"/>
<rect x="112" y="230" width="1" height="6" fill="#fff"/>
<rect x="116" y="212" width="1" height="20"/>
<rect x="115" y="219" width="3" height="12"/>
<rect x="116" y="220" width="1" height="10" fill="#fff"/>
<rect x="120" y="203" width="1" height="17"/>
<rect x="119" y="209" width="3" height="10"/>
<rect x="120" y="210" width="1" height="8" fill="#fff"/>
<rect x="124" y="208" width="1" height="14"/>
<rect x="123" y="209" width="3" height="10"/>
<rect x="128" y="202" width="1" height="27"/>
<rect x="127" y="212" width="3" height="7"/>
<rect x="128" y="213" width="1" height="5" fill="#fff"/>
<rect x="132" y="204" width="1" height="9"/>
<rect x="131" y="209" width="3" height="3"/>
<rect x="132" y="210" width="1" height="1" fill="#fff"/>
<rect x="136" y="200" width="1" height="11"/>
<rect x="135" y="205" width="3" height="4"/>
<rect x="136" y="206" width="1" height="2" fill="#fff"/>
<rect x="140" y="200" width="1" height="8"/>
<rect x="139" y="204" width="3" height="1"/>
<rect x="144" y="189" width="1" height="17"/>
<rect x="143" y="190" width="3" height="15"/>
<rect x="144" y="191" width="1" height="13" fill="#fff"/>
<rect x="148" y="183" width="1" height="9"/>
<rect x="147" y="187" width="3" height="4"/>
<rect x="148" y="188" width="1" height="2" fill="#fff"/>
<rect x="152" y="185" width="1" height="13"/>
<rect x="151" y="187" width="3" height="6"/>
<rect x="156" y="190" width="1" height="12"/>
<rect x="155" y="192" width="3" height="8"/>
<rect x="160" y="195" width="1" height="7"/>
<rect x="159" y="197" width="3" height="4"/>
<rect x="160" y="198" width="1" height="2" fill="#fff"/>
<rect x="164" y="195" width="1" height="5"/>
<rect x="163" y="197" width="3" height="1"/>
<rect x="168" y="188" width="1" height="10"/>
<rect x="167" y="189" width="3" height="9"/>
<rect x="168" y="190" width="1" height="7" fill="#fff"/>
<rect x="172" y="181" width="1" height="15"/>
<rect x="171" y="184" width="3" height="5"/>
<rect x="172" y="185" width="1" height="3" fill="#fff"/>
<rect x="176" y="173" width="1" height="13"/>
<rect x="175" y="181" width="3" height="4"/>
<rect x="176" y="182" width="1" height="2" fill="#fff"/>
<rect x="180" y="159" width="1" height="28"/>
<rect x="179" y="159" width="3" height="22"/>
<rect x="180" y="160" width="1" height="20" fill="#fff"/>
<rect x="184" y="153" width="1" height="14"/>
<rect x="183" y="153" width="3" height="9"/>
<rect x="184" y="154" width="1" height="7" fill="#fff"/>
<rect x="188" y="152" width="1" height="9"/>
<rect x="187" y="153" width="3" height="7"/>
<rect x="192" y="154" width="1" height="11"/>
<rect x="191" y="155" width="3" height="5"/>
<rect x="192" y="156" width="1" height="3" fill="#fff"/>
<rect x="196" y="144" width="1" height="14"/>
<rect x="195" y="154" width="3" height="2"/>
<rect x="200" y="149" width="1" height="29"/>
<rect x="199" y="154" width="3" height="18"/>
<rect x="204" y="170" width="1" height="12"/>
<rect x="203" y="171" width="3" height="5"/>
<rect x="208" y="166" width="1" height="11"/>
<rect x="207" y="168" width="3" height="8"/>
<rect x="208" y="169" width="1" height="6" fill="#fff"/>
<rect x="212" y="166" width="1" height="25"/>
<rect x="211" y="168" width="3" height="21"/>
<rect x="216" y="181" width="1" height="14"/>
<rect x="215" y="182" width="3" height="7"/>
<rect x="216" y="183" width="1" height="5" fill="#fff"/>
<rect x="220" y="161" width="1" height="28"/>
<rect x="219" y="171" width="3" height="10"/>
<rect x="220" y="172" width="1" height="8" fill="#fff"/>
<rect x="224" y="159" width="1" height="15"/>
<rect x="223" y="160" width="3" height="12"/>
<rect x="224" y="161" width="1" height="10" fill="#fff"/>
<rect x="228" y="157" width="1" height="25"/>
<rect x="228" y="165" width="1" height="17" fill="#808080"/>
<rect x="227" y="160" width="3" height="5"/>
<rect x="232" y="149" width="1" height="20"/>
<rect x="231" y="150" width="3" height="11"/>
<rect x="236" y="153" width="1" height="12"/>
<rect x="235" y="160" width="3" height="1"/>
<rect x="240" y="155" width="1" height="17"/>
<rect x="239" y="161" width="3" height="6"/>
<rect x="244" y="161" width="1" height="18"/>
<rect x="243" y="162" width="3" height="5"/>
<rect x="244" y="163" width="1" height="3" fill="#fff"/>
<rect x="248" y="147" width="1" height="18"/>
<rect x="247" y="148" width="3" height="14"/>
<rect x="248" y="149" width="1" height="12" fill="#fff"/>
<rect x="252" y="132" width="1" height="19"/>
<rect x="251" y="134" width="3" height="15"/>
<rect x="252" y="135" width="1" height="13" fill="#fff"/>
<rect x="256" y="127" width="1" height="13"/>
<rect x="255" y="132" width="3" height="3"/>
<rect x="256" y="133" width="1" height="1" fill="#fff"/>
<rect x="260" y="129" width="1" height="10"/>
<rect x="259" y="132" width="3" height="1"/>
<rect x="264" y="111" width="1" height="23"/>
<rect x="263" y="113" width="3" height="20"/>
<rect x="264" y="114" width="1" height="18" fill="#fff"/>
<rect x="268" y="89" width="1" height="26"/>
<rect x="267" y="92" width="3" height="23"/>
<rect x="268" y="93" width="1" height="21" fill="#fff"/>
<rect x="272" y="82" width="1" height="16"/>
<rect x="271" y="86" width="3" height="8"/>
<rect x="272" y="87" width="1" height="6" fill="#fff"/>
<rect x="276" y="79" width="1" height="28"/>
<rect x="275" y="86" width="3" height="10"/>
<rect x="280" y="92" width="1" height="22"/>
<rect x="279" y="97" width="3" height="10"/>
<rect x="284" y="98" width="1" height="16"/>
<rect x="283" y="106" width="3" height="1"/>
<rect x="288" y="89" width="1" height="20"/>
<rect x="287" y="103" width="3" height="4"/>
<rect x="288" y="104" width="1" height="2" fill="#fff"/>
<rect x="292" y="97" width="1" height="16"/>
<rect x="291" y="103" width="3" height="1"/>
<rect x="296" y="87" width="1" height="21"/>
<rect x="295" y="93" width="3" height="11"/>
<rect x="296" y="94" width="1" height="9" fill="#fff"/>
<rect x="300" y="76" width="1" height="18"/>
<rect x="299" y="80" width="3" height="13"/>
<rect x="300" y="81" width="1" height="11" fill="#fff"/>
<rect x="304" y="76" width="1" height="10"/>
<rect x="303" y="81" width="3" height="3"/>
<rect x="308" y="81" width="1" height="10"/>
<rect x="307" y="83" width="3" height="2"/>
<rect x="312" y="82" width="1" height="11"/>
<rect x="311" y="84" width="3" height="2"/>
<rect x="316" y="84" width="1" height="20"/>
<rect x="315" y="85" width="3" height="11"/>
<rect x="320" y="92" width="1" height="32"/>
<rect x="319" y="95" width="3" height="11"/>
<rect x="324" y="94" width="1" height="13"/>
<rect x="323" y="103" width="3" height="3"/>
<rect x="324" y="104" width="1" height="1" fill="#fff"/>
<rect x="328" y="98" width="1" height="11"/>
<rect x="327" y="101" width="3" height="3"/>
<rect x="328" y="102" width="1" height="1" fill="#fff"/>
<rect x="332" y="100" width="1" height="15"/>
<rect x="331" y="101" width="3" height="12"/>
<rect x="336" y="103" width="1" height="16"/>
<rect x="335" y="112" width="3" height="4"/>
<rect x="340" y="99" width="1" height="31"/>
<rect x="339" y="115" width="3" height="14"/>
<rect x="344" y="118" width="1" height="19"/>
<rect x="343" y="126" width="3" height="3"/>
<rect x="344" y="127" width="1" height="1" fill="#fff"/>
<rect x="348" y="124" width="1" height="12"/>
<rect x="347" y="125" width="3" height="6"/>
<rect x="352" y="126" width="1" height="14"/>
<rect x="351" y="127" width="3" height="13"/>
<rect x="352" y="128" width="1" height="11" fill="#fff"/>
<rect x="356" y="123" width="1" height="8"/>
<rect x="355" y="127" width="3" height="3"/>
<rect x="360" y="109" width="1" height="21"/>
<rect x="359" y="117" width="3" height="13"/>
<rect x="360" y="118" width="1" height="11" fill="#fff"/>
<rect x="364" y="117" width="1" height="17"/>
<rect x="363" y="117" width="3" height="13"/>
<rect x="368" y="111" width="1" height="22"/>
<rect x="367" y="117" width="3" height="13"/>
<rect x="368" y="118" width="1" height="11" fill="#fff"/>
<rect x="372" y="103" width="1" height="15"/>
<rect x="371" y="106" width="3" height="11"/>
<rect x="372" y="107" width="1" height="9" fill="#fff"/>
<rect x="376" y="106" width="1" height="14"/>
<rect x="375" y="106" width="3" height="6"/>
<rect x="380" y="110" width="1" height="16"/>
<rect x="379" y="111" width="3" height="11"/>
<rect x="384" y="114" width="1" height="21"/>
<rect x="383" y="117" width="3" height="4"/>
<rect x="384" y="118" width="1" height="2" fill="#fff"/>
<rect x="388" y="109" width="1" height="17"/>
<rect x="387" y="117" width="3" height="8"/>
<rect x="392" y="117" width="1" height="33"/>
<rect x="391" y="124" width="3" height="12"/>
<rect x="396" y="131" width="1" height="20"/>
<rect x="395" y="135" width="3" height="6"/>
<rect x="400" y="140" width="1" height="34"/>
<rect x="399" y="141" width="3" height="25"/>
<rect x="404" y="161" width="1" height="19"/>
<rect x="403" y="166" width="3" height="7"/>
<rect x="408" y="169" width="1" height="17"/>
<rect x="407" y="171" width="3" height="2"/>
<rect x="412" y="172" width="1" height="32"/>
<rect x="411" y="172" width="3" height="30"/>
<rect x="416" y="201" width="1" height="39"/>
<rect x="415" y="201" width="3" height="29"/>
<rect x="420" y="229" width="1" height="33"/>
<rect x="419" y="229" width="3" height="33"/>
<rect x="424" y="239" width="1" height="37"/>
<rect x="423" y="253" width="3" height="9"/>
<rect x="424" y="254" width="1" height="7" fill="#fff"/>
<rect x="428" y="241" width="1" height="21"/>
<rect x="427" y="242" width="3" height="11"/>
<rect x="428" y="243" width="1" height="9" fill="#fff"/>
<rect x="432" y="229" width="1" height="33"/>
<rect x="431" y="243" width="3" height="10"/>
<rect x="436" y="252" width="1" height="39"/>
<rect x="435" y="253" width="3" height="11"/>
<rect x="440" y="233" width="1" height="34"/>
<rect x="439" y="252" width="3" height="11"/>
<rect x="440" y="253" width="1" height="9" fill="#fff"/>
<rect x="444" y="212" width="1" height="45"/>
<rect x="443" y="226" width="3" height="26"/>
<rect x="444" y="227" width="1" height="24" fill="#fff"/>
<rect x="448" y="220" width="1" height="18"/>
<rect x="447" y="226" width="3" height="10"/>
<rect x="452" y="229" width="1" height="17"/>
<rect x="451" y="231" width="3" height="5"/>
<rect x="452" y="232" width="1" height="3" fill="#fff"/>
<rect x="456" y="214" width="1" height="29"/>
<rect x="455" y="224" width="3" height="7"/>
<rect x="456" y="225" width="1" height="5" fill="#fff"/>
<rect x="460" y="220" width="1" height="22"/>
<rect x="459" y="224" width="3" height="11"/>
<rect x="464" y="216" width="1" height="34"/>
<rect x="463" y="228" width="3" height="7"/>
<rect x="464" y="229" width="1" height="5" fill="#fff"/>
<rect x="468" y="227" width="1" height="21"/>
<rect x="467" y="228" width="3" height="10"/>
<rect x="472" y="223" width="1" height="29"/>
<rect x="471" y="227" width="3" height="24"/>
<rect x="472" y="228" width="1" height="22" fill="#fff"/>
<rect x="476" y="219" width="1" height="10"/>
<rect x="475" y="223" width="3" height="5"/>
<rect x="476" y="224" width="1" height="3" fill="#fff"/>
<rect x="480" y="223" width="1" height="21"/>
<rect x="479" y="224" width="3" height="6"/>
<rect x="484" y="224" width="1" height="18"/>
<rect x="483" y="229" width="3" height="8"/>
</g>
<g shape-rendering="crispEdges">
<rect x="4" y="46" width="480" height="1" fill="#2F4F4F"/>
<rect x="4" y="165" width="480" height="1" fill="#2F4F4F"/>
<rect x="4" y="310" width="480" height="1" fill="#2F4F4F"/>
<rect x="4" y="382" width="480" height="1" fill="#2F4F4F"/>
<rect x="4" y="77" width="493" height="2" fill="#8B0000"/>
<rect x="4" y="288" width="493" height="2" fill="#800080"/>
<rect x="44" y="211" width="28" height="1" fill="#606060"/>
<rect x="320" y="92" width="84" height="1" fill="#606060"/>
<rect x="436" y="213" width="32" height="1" fill="#606060"/>
</g>
<g shape-rendering="crispEdges">
<rect x="0" y="0" width="646" height="1" fill="#646464"/>
<rect x="0" y="0" width="1" height="410" fill="#646464"/>
<rect x="3" y="3" width="602" height="1" fill="#000"/>
<rect x="3" y="3" width="1" height="387" fill="#000"/>
<rect x="604" y="3" width="1" height="387" fill="#000"/>
<rect x="3" y="389" width="602" height="1" fill="#000"/>
<rect x="605" y="23" width="2" height="1" fill="#000"/>
<rect x="605" y="56" width="2" height="1" fill="#000"/>
<rect x="605" y="89" width="2" height="1" fill="#000"/>
<rect x="605" y="122" width="2" height="1" fill="#000"/>
<rect x="605" y="155" width="2" height="1" fill="#000"/>
<rect x="605" y="188" width="2" height="1" fill="#000"/>
<rect x="605" y="221" width="2" height="1" fill="#000"/>
<rect x="605" y="254" width="2" height="1" fill="#000"/>
<rect x="605" y="287" width="2" height="1" fill="#000"/>
<rect x="605" y="320" width="2" height="1" fill="#000"/>
<rect x="605" y="353" width="2" height="1" fill="#000"/>
<rect x="605" y="386" width="2" height="1" fill="#000"/>
<rect x="4" y="390" width="1" height="3" fill="#000"/>
<rect x="68" y="390" width="1" height="3" fill="#000"/>
<rect x="132" y="390" width="1" height="3" fill="#000"/>
<rect x="196" y="390" width="1" height="3" fill="#000"/>
<rect x="260" y="390" width="1" height="3" fill="#000"/>
<rect x="324" y="390" width="1" height="3" fill="#000"/>
<rect x="388" y="390" width="1" height="3" fill="#000"/>
<rect x="452" y="390" width="1" height="3" fill="#000"/>
<rect x="606" y="232" width="40" height="10" fill="#000"/>
</g>
<polygon points="4,384 4,389 9,389" fill="#C0C0C0"/>
<polygon points="297,4 306.5,4 301.7,9" fill="#B4B4B4"/>
<polygon points="7,10 14.5,10 10.7,14" fill="#000"/>
<g stroke="#404040" stroke-width="1" fill="none" shape-rendering="crispEdges">
<line x1="508.1" y1="220.1" x2="515.5" y2="237.6"/>
<line x1="518.4" y1="244" x2="525.9" y2="261.8"/>
<line x1="528.4" y1="268" x2="536.7" y2="285.8"/>
<line x1="572.8" y1="203" x2="566.3" y2="220.6"/>
<line x1="564.7" y1="227.2" x2="558.5" y2="244.7"/>
<line x1="556.8" y1="251.2" x2="550.4" y2="268.9"/>
<line x1="548.8" y1="275.1" x2="544.2" y2="286.6"/>
</g>
<text x="30.8" y="207.6" font-size="13" fill="#68686F" textLength="50.5" lengthAdjust="spacingAndGlyphs">engulfing</text>
<text x="48.9" y="270.3" font-size="13" fill="#68686F" textLength="38.4" lengthAdjust="spacingAndGlyphs">harami</text>
<text x="147.7" y="146.9" font-size="13" fill="#68686F" textLength="73.5" lengthAdjust="spacingAndGlyphs">shooting star</text>
<text x="171.1" y="125.0" font-size="13" fill="#68686F" textLength="81.9" lengthAdjust="spacingAndGlyphs">three methods</text>
<text x="188.9" y="207.2" font-size="13" fill="#68686F" textLength="46.6" lengthAdjust="spacingAndGlyphs">hammer</text>
<text x="220.1" y="87.1" font-size="13" fill="#68686F" textLength="49.9" lengthAdjust="spacingAndGlyphs">engulfing</text>
<text x="288.9" y="75.2" font-size="13" fill="#68686F" textLength="38.4" lengthAdjust="spacingAndGlyphs">harami</text>
<text x="361.2" y="102.9" font-size="13" fill="#68686F" textLength="38.2" lengthAdjust="spacingAndGlyphs">harami</text>
<text x="340.4" y="151.6" font-size="13" fill="#68686F" textLength="47.9" lengthAdjust="spacingAndGlyphs">belt hold</text>
<text x="426.1" y="209.9" font-size="13" fill="#68686F" textLength="51.3" lengthAdjust="spacingAndGlyphs">tweezers</text>
<text x="412.7" y="306.3" font-size="13" fill="#68686F" textLength="47" lengthAdjust="spacingAndGlyphs">hammer</text>
<text x="493.4" y="179.6" font-size="13.4" fill="#7A8CAA" textLength="45.7" lengthAdjust="spacingAndGlyphs">Window</text>
<text x="488.8" y="327.9" font-size="13.4" fill="#7A8CAA" textLength="46.2" lengthAdjust="spacingAndGlyphs">Window</text>
<text x="488" y="50.9" font-size="13.4" fill="#C89B28" textLength="79.5" lengthAdjust="spacingAndGlyphs">Window down</text>
<text x="488.5" y="380.8" font-size="13.4" fill="#C89B28" textLength="79" lengthAdjust="spacingAndGlyphs">Window down</text>
<text x="19.3" y="15" font-size="10" fill="#000" stroke="#000" stroke-width="0.2" textLength="61.7" lengthAdjust="spacingAndGlyphs">USDJPY.m,H4</text>
<text x="86.8" y="15" font-size="10" fill="#000" stroke="#000" stroke-width="0.2" textLength="32.8" lengthAdjust="spacingAndGlyphs">111.413</text>
<text x="122.8" y="15" font-size="10" fill="#000" stroke="#000" stroke-width="0.2" textLength="32.8" lengthAdjust="spacingAndGlyphs">111.495</text>
<text x="158.8" y="15" font-size="10" fill="#000" stroke="#000" stroke-width="0.2" textLength="32.8" lengthAdjust="spacingAndGlyphs">111.170</text>
<text x="194.8" y="15" font-size="10" fill="#000" stroke="#000" stroke-width="0.2" textLength="32.8" lengthAdjust="spacingAndGlyphs">111.267</text>
<text x="609.8" y="27.2" font-size="10" fill="#000" stroke="#000" stroke-width="0.2" textLength="33.2" lengthAdjust="spacingAndGlyphs">115.380</text>
<text x="609.8" y="60.2" font-size="10" fill="#000" stroke="#000" stroke-width="0.2" textLength="33.2" lengthAdjust="spacingAndGlyphs">114.750</text>
<text x="609.8" y="93.2" font-size="10" fill="#000" stroke="#000" stroke-width="0.2" textLength="33.2" lengthAdjust="spacingAndGlyphs">114.105</text>
<text x="609.8" y="126.2" font-size="10" fill="#000" stroke="#000" stroke-width="0.2" textLength="33.2" lengthAdjust="spacingAndGlyphs">113.475</text>
<text x="609.8" y="159.2" font-size="10" fill="#000" stroke="#000" stroke-width="0.2" textLength="33.2" lengthAdjust="spacingAndGlyphs">112.830</text>
<text x="609.8" y="192.2" font-size="10" fill="#000" stroke="#000" stroke-width="0.2" textLength="33.2" lengthAdjust="spacingAndGlyphs">112.200</text>
<text x="609.8" y="225.2" font-size="10" fill="#000" stroke="#000" stroke-width="0.2" textLength="33.2" lengthAdjust="spacingAndGlyphs">111.555</text>
<text x="609.8" y="258.2" font-size="10" fill="#000" stroke="#000" stroke-width="0.2" textLength="33.2" lengthAdjust="spacingAndGlyphs">110.925</text>
<text x="609.8" y="291.2" font-size="10" fill="#000" stroke="#000" stroke-width="0.2" textLength="33.2" lengthAdjust="spacingAndGlyphs">110.280</text>
<text x="609.8" y="324.2" font-size="10" fill="#000" stroke="#000" stroke-width="0.2" textLength="33.2" lengthAdjust="spacingAndGlyphs">109.650</text>
<text x="609.8" y="357.2" font-size="10" fill="#000" stroke="#000" stroke-width="0.2" textLength="33.2" lengthAdjust="spacingAndGlyphs">109.020</text>
<text x="609.8" y="390.2" font-size="10" fill="#000" stroke="#000" stroke-width="0.2" textLength="33.2" lengthAdjust="spacingAndGlyphs">108.375</text>
<text x="609.8" y="241.2" font-size="10" fill="#fff" stroke="#fff" stroke-width="0.2" textLength="33.2" lengthAdjust="spacingAndGlyphs">111.267</text>
<text x="3.8" y="402.2" font-size="10" fill="#000" stroke="#000" stroke-width="0.2" textLength="49.6" lengthAdjust="spacingAndGlyphs">24 Apr 2017</text>
<text x="67.8" y="402.2" font-size="10" fill="#000" stroke="#000" stroke-width="0.2" textLength="52.6" lengthAdjust="spacingAndGlyphs">27 Apr 04:00</text>
<text x="131.10000000000002" y="402.2" font-size="10" fill="#000" stroke="#000" stroke-width="0.2" textLength="52.2" lengthAdjust="spacingAndGlyphs">1 May 20:00</text>
<text x="195.8" y="402.2" font-size="10" fill="#000" stroke="#000" stroke-width="0.2" textLength="52.3" lengthAdjust="spacingAndGlyphs">4 May 12:00</text>
<text x="259.8" y="402.2" font-size="10" fill="#000" stroke="#000" stroke-width="0.2" textLength="52.3" lengthAdjust="spacingAndGlyphs">9 May 04:00</text>
<text x="323.1" y="402.2" font-size="10" fill="#000" stroke="#000" stroke-width="0.2" textLength="57.900000000000006" lengthAdjust="spacingAndGlyphs">11 May 20:00</text>
<text x="387.1" y="402.2" font-size="10" fill="#000" stroke="#000" stroke-width="0.2" textLength="57.900000000000006" lengthAdjust="spacingAndGlyphs">16 May 12:00</text>
<text x="451.1" y="402.2" font-size="10" fill="#000" stroke="#000" stroke-width="0.2" textLength="58.1" lengthAdjust="spacingAndGlyphs">19 May 04:00</text>
</svg>
</body></html>
